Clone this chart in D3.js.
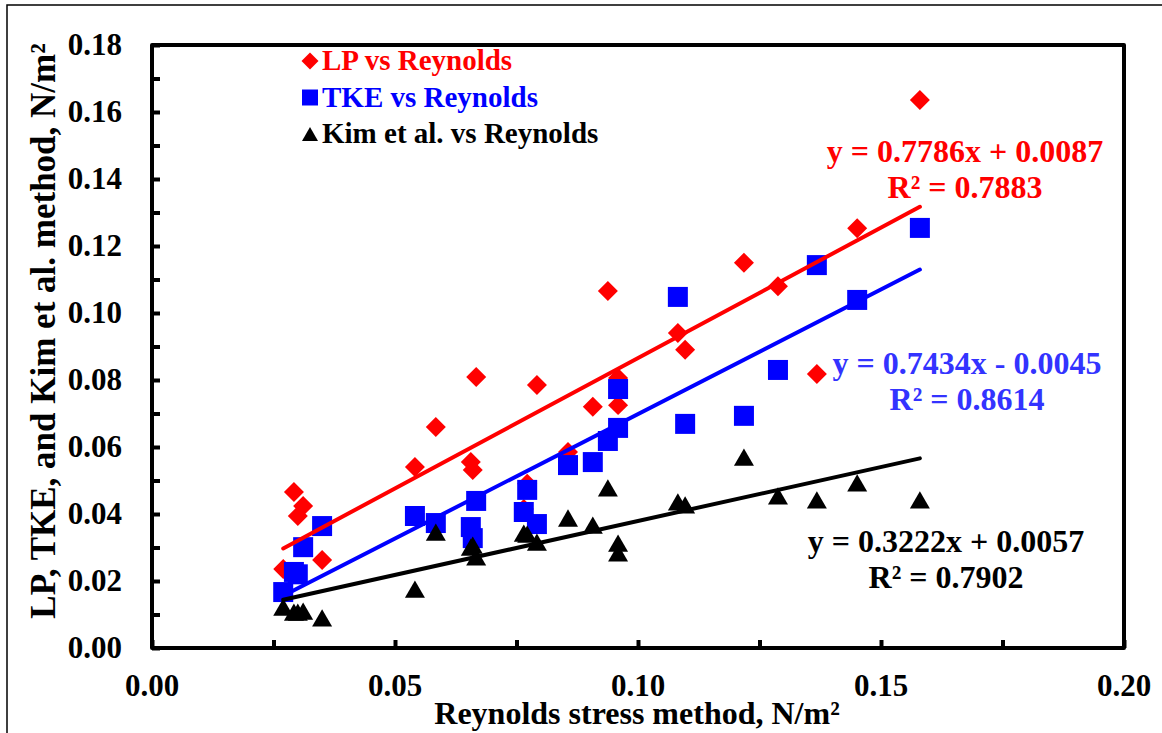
<!DOCTYPE html>
<html>
<head>
<meta charset="utf-8">
<script src="https://cdn.jsdelivr.net/npm/d3@7"></script>
<style>
  body { margin: 0; background: #fff; }
  text { font-family: "Liberation Serif", "Times New Roman", serif; font-weight: bold; }
</style>
</head>
<body>
<svg id="chart" width="1162" height="733"></svg>
<script>
// Reynolds stress method (x), shared by all three series
const reynolds = [0.0270, 0.0292, 0.0300, 0.0311, 0.0350, 0.0541, 0.0584, 0.0656, 0.0660, 0.0667,
  0.0765, 0.0772, 0.0792, 0.0856, 0.0907, 0.0938, 0.0959, 0.0959, 0.1082, 0.1097,
  0.1218, 0.1288, 0.1368, 0.1451, 0.1580];
const lpVals = [0.0236, 0.0466, 0.0394, 0.0424, 0.0263, 0.0540, 0.0660, 0.0555, 0.0531, 0.0809,
  0.0415, 0.0490, 0.0785, 0.0585, 0.0720, 0.1066, 0.0725, 0.0806, 0.0940, 0.0890,
  0.1150, 0.1080, 0.0818, 0.1253, 0.1636];
const tkeVals = [0.0167, 0.0227, 0.0220, 0.0301, 0.0364, 0.0394, 0.0373, 0.0361, 0.0328, 0.0439,
  0.0406, 0.0472, 0.0370, 0.0546, 0.0555, 0.0618, 0.0657, 0.0773, 0.1048, 0.0669,
  0.0693, 0.0830, 0.1143, 0.1039, 0.1254];
const kimVals = [0.0122, 0.0107, 0.0107, 0.0110, 0.0090, 0.0176, 0.0346, 0.0301, 0.0307, 0.0272,
  0.0343, 0.0340, 0.0316, 0.0388, 0.0367, 0.0478, 0.0313, 0.0284, 0.0436, 0.0427,
  0.0570, 0.0454, 0.0442, 0.0493, 0.0442];

const seriesNames = ["LP vs Reynolds", "TKE vs Reynolds", "Kim et al. vs Reynolds"];
const seriesColors = ["#ff0000", "#0000ff", "#000000"];
const labelColors = ["#ff0000", "#3333ff", "#000000"];
// linear trendlines [slope, intercept] and their labels
const fitCoefs = [[0.7786, 0.0087], [0.7434, -0.0045], [0.3222, 0.0057]];
const fitEquations = ["y = 0.7786x + 0.0087", "y = 0.7434x - 0.0045", "y = 0.3222x + 0.0057"];
const fitR2 = ["R² = 0.7883", "R² = 0.8614", "R² = 0.7902"];

const xTicks = [0, 0.05, 0.10, 0.15, 0.20];
const xMinor = [0.025, 0.075, 0.125, 0.175];
const yTicks = [0, 0.02, 0.04, 0.06, 0.08, 0.10, 0.12, 0.14, 0.16, 0.18];
const yMinor = [0.01, 0.03, 0.05, 0.07, 0.09, 0.11, 0.13, 0.15, 0.17];

let svg = d3.select("#chart");
let plotL = 152, plotR = 1124, plotT = 45, plotB = 648;

let x = d3.scaleLinear().domain([0, 0.20]).range([plotL, plotR]);
let y = d3.scaleLinear().domain([0, 0.18]).range([plotB, plotT]);

// outer frame of the figure
svg.append("rect")
  .attr("x", 7).attr("y", 5)
  .attr("width", 1170).attr("height", 750)
  .attr("fill", "none").attr("stroke", "#000").attr("stroke-width", 1.5);

// axes, ticks point inward
let xAxis = svg.append("g")
  .attr("transform", `translate(0,${plotB})`)
  .call(d3.axisTop(x).tickValues(xTicks.concat(xMinor)).tickSize(8).tickFormat(""));
let yAxis = svg.append("g")
  .attr("transform", `translate(${plotL},0)`)
  .call(d3.axisRight(y).tickValues(yTicks.concat(yMinor)).tickSize(8).tickFormat(""));
[xAxis, yAxis].forEach(a => {
  a.select(".domain").remove();
  a.selectAll("line").attr("stroke", "#000").attr("stroke-width", 4);
});

svg.append("rect")
  .attr("x", plotL).attr("y", plotT)
  .attr("width", plotR - plotL).attr("height", plotB - plotT)
  .attr("fill", "none").attr("stroke", "#000").attr("stroke-width", 4)
  .attr("stroke-linejoin", "round");

svg.append("g").selectAll("text")
  .data(xTicks).enter().append("text")
  .attr("x", d => x(d)).attr("y", 696)
  .attr("text-anchor", "middle")
  .attr("font-size", 31)
  .text(d => d.toFixed(2));

svg.append("g").selectAll("text")
  .data(yTicks).enter().append("text")
  .attr("x", 122).attr("y", d => y(d) + 10)
  .attr("text-anchor", "end")
  .attr("font-size", 31)
  .text(d => d.toFixed(2));

svg.append("text")
  .attr("x", 637).attr("y", 724)
  .attr("text-anchor", "middle")
  .attr("font-size", 32)
  .text("Reynolds stress method, N/m²");

svg.append("text")
  .attr("transform", "translate(55,331) rotate(-90)")
  .attr("text-anchor", "middle")
  .attr("font-size", 35)
  .text("LP, TKE, and Kim et al. method, N/m²");

// marker shapes: diamond, square, triangle (triangle shifted so its box is centred)
const markerPath = (i, s) => {
  if (i === 0) return d3.symbol(d3.symbolSquare, s * s / 2)();
  if (i === 1) return d3.symbol(d3.symbolSquare, s * s)();
  let side = s, h = side * Math.sqrt(3) / 2;
  return `M0,${-h / 2}L${side / 2},${h / 2}L${-side / 2},${h / 2}Z`;
};
const markerRotate = i => (i === 0 ? " rotate(45)" : "");

let allVals = [lpVals, tkeVals, kimVals];
allVals.forEach((vals, i) => {
  svg.append("g").selectAll("path")
    .data(vals).enter().append("path")
    .attr("d", markerPath(i, 20))
    .attr("transform", (d, j) => `translate(${x(reynolds[j])},${y(d)})` + markerRotate(i))
    .attr("fill", seriesColors[i]);
});

// trendlines drawn over the markers
let xExt = d3.extent(reynolds);
fitCoefs.forEach((c, i) => {
  svg.append("line")
    .attr("x1", x(xExt[0])).attr("y1", y(c[0] * xExt[0] + c[1]))
    .attr("x2", x(xExt[1])).attr("y2", y(c[0] * xExt[1] + c[1]))
    .attr("stroke", seriesColors[i]).attr("stroke-width", 4)
    .attr("stroke-linecap", "round");
});

// equation labels
let eqPos = [[965, 162], [967, 374], [946, 552]];
fitEquations.forEach((eq, i) => {
  let t = svg.append("text")
    .attr("text-anchor", "middle")
    .attr("font-size", 32)
    .attr("fill", labelColors[i]);
  t.append("tspan").attr("x", eqPos[i][0]).attr("y", eqPos[i][1]).text(eq);
  t.append("tspan").attr("x", eqPos[i][0]).attr("y", eqPos[i][1] + 36).text(fitR2[i]);
});

// legend
let legend = svg.append("g");
seriesNames.forEach((name, i) => {
  let ly = 61 + i * 36.5;
  legend.append("path")
    .attr("d", markerPath(i, i === 0 ? 17 : 16))
    .attr("transform", `translate(310,${ly})` + markerRotate(i))
    .attr("fill", seriesColors[i]);
  legend.append("text")
    .attr("x", 322).attr("y", ly + 9)
    .attr("font-size", 29)
    .attr("fill", seriesColors[i])
    .text(name);
});
</script>
</body>
</html>
